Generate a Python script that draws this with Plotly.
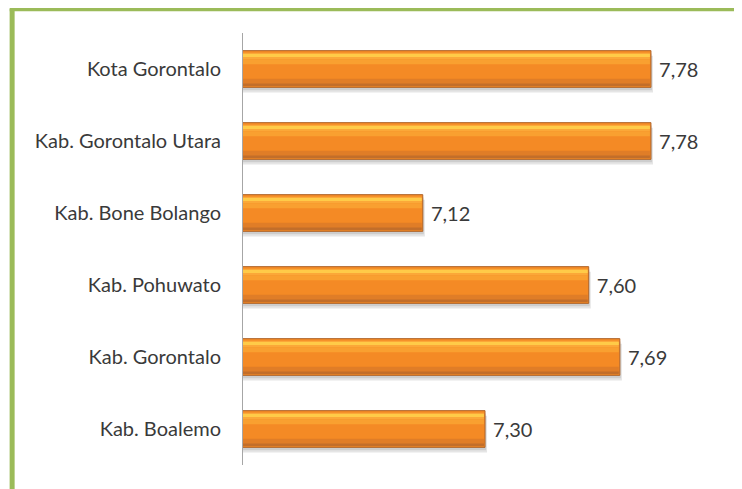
import plotly.graph_objects as go

# data (top to bottom as drawn)
regions = ["Kota Gorontalo", "Kab. Gorontalo Utara", "Kab. Bone Bolango",
           "Kab. Pohuwato", "Kab. Gorontalo", "Kab. Boalemo"]
values = [7.78, 7.78, 7.12, 7.60, 7.69, 7.30]
labels = [" " + f"{v:.2f}".replace(".", ",") for v in values]

BAR_W = 0.51
TOP = -BAR_W / 2

fig = go.Figure()


def band(dx, width, offset, color):
    # thin overlay bar used to fake the office-style gradient
    fig.add_trace(go.Bar(
        x=[v + dx for v in values], y=regions, orientation="h",
        width=width, offset=offset,
        marker=dict(color=color, line=dict(width=0)),
        hoverinfo="skip", showlegend=False,
    ))


# soft shadow under each bar
band(0.006, BAR_W, TOP + 0.07, "rgba(0,0,0,0.10)")
band(0.003, BAR_W, TOP + 0.04, "rgba(0,0,0,0.10)")

# main bar
fig.add_trace(go.Bar(
    x=values, y=regions, orientation="h",
    width=BAR_W, offset=TOP,
    marker=dict(color="#F48A25", line=dict(color="#B0652A", width=1)),
    text=labels, textposition="outside", cliponaxis=False,
    textfont=dict(family="Lato", size=20, color="#3A3A3A"),
    showlegend=False,
))

# gradient bands
band(-0.003, 0.09, TOP + 0.03, "#FBA838")
band(-0.003, 0.045, TOP + 0.045, "#FFCB48")
band(-0.003, 0.07, TOP + 0.12, "#F9A030")
band(-0.003, 0.09, BAR_W / 2 - 0.12, "#E07D27")
band(-0.003, 0.04, BAR_W / 2 - 0.055, "#C26E2A")

fig.update_layout(
    width=742, height=489,
    barmode="overlay",
    plot_bgcolor="white", paper_bgcolor="white",
    margin=dict(l=235, r=23, t=25, b=32),
    font=dict(family="Lato", size=20, color="#3A3A3A"),
    xaxis=dict(range=[6.6, 8.0], showgrid=False, zeroline=False,
               showticklabels=False, showline=False, fixedrange=True),
    yaxis=dict(autorange="reversed", showgrid=False, zeroline=False,
               showline=True, linecolor="#A6A6A6", linewidth=1,
               ticks="", ticklabelstandoff=17,
               tickfont=dict(family="Lato", size=20, color="#3A3A3A")),
    shapes=[
        # green frame (left and top)
        dict(type="line", xref="paper", yref="paper",
             x0=-0.477, x1=-0.477, y0=-0.1, y1=1.056,
             line=dict(color="#9BBB59", width=5)),
        dict(type="line", xref="paper", yref="paper",
             x0=-0.482, x1=1.1, y0=1.056, y1=1.056,
             line=dict(color="#9BBB59", width=5)),
    ],
)

fig.write_html("out.html")
